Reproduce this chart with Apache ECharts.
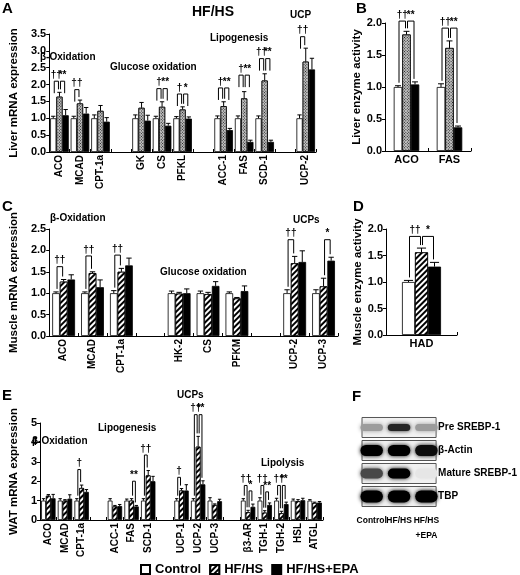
<!DOCTYPE html>
<html>
<head>
<meta charset="utf-8">
<script src="https://cdn.jsdelivr.net/npm/echarts@6/dist/echarts.min.js"></script>
<style>html,body{margin:0;padding:0;background:#fff}#main{width:520px;height:575px}</style>
</head>
<body>
<div id="main"></div>
<script>
// A - liver mRNA
var aCats = ['ACO','MCAD','CPT-1a','','GK','CS','PFKL','','ACC-1','FAS','SCD-1','','UCP-2'];
var aCtrl = [1.0,1.0,1.0,null,1.0,1.0,1.0,null,1.0,1.0,1.0,null,1.0];
var aHF = [1.64,1.44,1.22,null,1.31,1.34,1.26,null,1.36,1.59,2.12,null,2.68];
var aEPA = [1.09,1.14,0.9,null,0.93,0.78,0.99,null,0.65,0.3,0.3,null,2.45];
var aCtrlErr = [0.06,0.06,0.1,null,0.1,0.06,0.05,null,0.07,0.07,0.07,null,0.1];
var aHFErr = [0.13,0.1,0.16,null,0.16,0.15,0.08,null,0.13,0.2,0.2,null,0.4];
var aEPAErr = [0.17,0.18,0.12,null,0.16,0.07,0.05,null,0.05,0.05,0.05,null,0.33];
var aSig = [[0,0,2.1,'††'],[0,1,2.1,'**'],[1,0,1.85,'††'],[5,0,1.88,'†'],[5,1,1.88,'**'],
            [6,0,1.72,'†'],[6,1,1.72,'*'],[8,0,1.9,'†'],[8,1,1.9,'**'],[9,0,2.28,'†'],[9,1,2.28,'**'],
            [10,0,2.77,'††'],[10,1,2.77,'**'],[12,0,3.42,'††']];

// B - liver enzyme activity
var bCats = ['ACO','FAS'];
var bCtrl = [1.0,1.0];
var bHF = [1.82,1.61];
var bEPA = [1.04,0.37];
var bCtrlErr = [0.02,0.05];
var bHFErr = [0.05,0.11];
var bEPAErr = [0.04,0.02];
var bSig = [[0,0,2.03,'††'],[0,1,2.03,'**'],[1,0,1.92,'††'],[1,1,1.92,'**']];

// C - muscle mRNA
var cCats = ['ACO','MCAD','CPT-1a','','HK-2','CS','PFKM','','UCP-2','UCP-3'];
var cCtrl = [1.0,1.0,1.0,null,1.0,1.0,1.0,null,1.0,1.0];
var cHF = [1.27,1.47,1.5,null,0.99,0.98,0.88,null,1.7,1.16];
var cEPA = [1.32,1.14,1.65,null,1.0,1.17,1.05,null,1.73,1.76];
var cCtrlErr = [0.03,0.03,0.06,null,0.05,0.05,0.03,null,0.08,0.08];
var cHFErr = [0.05,0.03,0.08,null,0.03,0.04,0.02,null,0.16,0.19];
var cEPAErr = [0.11,0.17,0.17,null,0.1,0.1,0.12,null,0.26,0.08];
var cSig = [[0,0,1.62,'††'],[1,0,1.87,'††'],[2,0,1.89,'††'],[8,0,2.25,'††'],[9,1,2.25,'*']];

// D - muscle enzyme activity
var dCats = ['HAD'];
var dCtrl = [1.0];
var dHF = [1.56];
var dEPA = [1.29];
var dCtrlErr = [0.03];
var dHFErr = [0.08];
var dEPAErr = [0.08];
var dSig = [[0,0,1.86,'††'],[0,1,1.86,'*']];

// E - WAT mRNA
var eCats = ['ACO','MCAD','CPT-1a','','ACC-1','FAS','SCD-1','','UCP-1','UCP-2','UCP-3','','β3-AR','TGH-1','TGH-2','HSL','ATGL'];
var eCtrl = [1.0,1.0,1.0,null,1.0,1.0,1.0,null,1.0,1.0,1.0,null,1.0,1.0,1.0,1.0,1.0];
var eHF = [1.25,1.0,1.65,null,0.7,1.0,2.3,null,1.52,3.78,0.78,null,0.4,0.38,0.35,0.97,0.88];
var eEPA = [1.12,1.1,1.45,null,0.72,0.7,2.0,null,1.52,1.84,0.97,null,0.68,0.78,0.82,1.02,0.9];
var eCtrlErr = [0.1,0.1,0.1,null,0.1,0.08,0.1,null,0.1,0.1,0.15,null,0.1,0.15,0.12,0.08,0.05];
var eHFErr = [0.06,0.05,0.15,null,0.05,0.1,0.25,null,0.1,0.53,0.05,null,0.1,0.1,0.1,0.08,0.04];
var eEPAErr = [0.2,0.2,0.12,null,0.08,0.05,0.25,null,0.3,0.18,0.1,null,0.14,0.1,0.1,0.1,0.05];
var eSig = [[2,0,2.6,'†'],[5,1,2.0,'**'],[6,0,3.35,'††'],[8,0,2.2,'†'],[9,0,5.43,'††'],[9,1,5.43,'**'],
            [12,0,1.78,'††'],[12,1,1.5,'*'],[13,0,1.78,'††'],[13,1,1.45,'**'],[14,0,1.78,'††'],[14,1,1.78,'**']];

// F - western blot
var fLanes = ['Control','HF/HS','HF/HS\n+EPA'];
var fRows = ['Pre SREBP-1','β-Actin','Mature SREBP-1','TBP'];
var fBands = [[0,0,0.35],[1,0,0.85],[2,0,0.35],
              [0,1,1],[1,1,1],[2,1,0.95],
              [0,2,0.7],[1,2,1],[2,2,0.04],
              [0,3,1],[1,3,1],[2,3,1]];

var FONT = '"Liberation Sans", Arial, sans-serif';
var names = ['Control','HF/HS','HF/HS+EPA'];
var hatchDense = {symbol:'rect', symbolSize:1, color:'#1a1a1a', backgroundColor:'#c4c4c4', dashArrayX:[1,1], dashArrayY:[1,1], rotation:Math.PI/4};
var hatchLine = {symbol:'rect', symbolSize:1, color:'#000', backgroundColor:'#fff', dashArrayX:[1,0], dashArrayY:[1.1,1.9], rotation:-Math.PI/4};
var bandH = [7,11,10,12];

function panel(gi, vals, errs, sig, o) {
  var fills = [{color:'#fff'}, {color:'#fff', decal:o.hatch}, {color:'#000'}];
  var out = [];
  for (var g = 0; g < 3; g++) {
    out.push({
      type:'bar', name:names[g], xAxisIndex:gi, yAxisIndex:gi, silent:true,
      data: vals[g].map(function (v) { return v == null ? '-' : v; }),
      barWidth:o.bw, barGap:'0%',
      itemStyle:{color:fills[g].color, decal:fills[g].decal, borderColor:'#000', borderWidth:0.8}
    });
  }
  var errData = [];
  for (g = 0; g < 3; g++) {
    vals[g].forEach(function (v, i) { if (v != null) errData.push([i, v, errs[g][i], g]); });
  }
  out.push({
    type:'custom', xAxisIndex:gi, yAxisIndex:gi, silent:true, z:3, data:errData,
    renderItem: function (params, api) {
      var i = api.value(0), v = api.value(1), e = api.value(2), g = api.value(3);
      var b = api.coord([i, v]), t = api.coord([i, v + e]);
      var x = b[0] + (g - 1) * o.bw, cw = Math.max(1.5, o.bw * 0.35);
      return {type:'group', children:[
        {type:'line', shape:{x1:x, y1:b[1], x2:x, y2:t[1]}, style:{stroke:'#000', lineWidth:1}},
        {type:'line', shape:{x1:x - cw, y1:t[1], x2:x + cw, y2:t[1]}, style:{stroke:'#000', lineWidth:1}}
      ]};
    }
  });
  out.push({
    type:'custom', xAxisIndex:gi, yAxisIndex:gi, silent:true, z:4,
    data: sig.map(function (s) { return [s[0], s[1], s[2]]; }),
    renderItem: function (params, api) {
      var s = sig[params.dataIndex];
      var c = s[0], g0 = s[1], g1 = s[1] + 1;
      var p = api.coord([c, s[2]]);
      var yTop = p[1];
      var xa = p[0] + (g0 - 1) * o.bw + 1, xb = p[0] + (g1 - 1) * o.bw - 1;
      function leg(g) {
        var yb = api.coord([c, vals[g][c] + errs[g][c]])[1] - 3;
        return Math.max(yTop + 2, Math.min(yb, yTop + o.maxLeg));
      }
      return {type:'group', children:[
        {type:'polyline', shape:{points:[[xa, leg(g0)], [xa, yTop], [xb, yTop], [xb, leg(g1)]]},
         style:{stroke:'#000', lineWidth:1, fill:null}},
        {type:'text', x:(xa + xb) / 2, y:yTop - 1,
         style:{text:s[3], fill:'#000', font:'bold 10px ' + FONT, align:'center', verticalAlign:'bottom'}}
      ]};
    }
  });
  return out;
}

function catAxis(gi, cats, rot, fs) {
  return {
    type:'category', gridIndex:gi, data:cats,
    axisLine:{lineStyle:{color:'#000', width:1}},
    axisTick:{show:true, inside:true, length:3, lineStyle:{color:'#000'}},
    axisLabel:{interval:0, rotate:rot, margin:3, color:'#000', fontSize:fs, fontWeight:'bold', fontFamily:FONT}
  };
}
function valAxis(gi, max, step, name, gap, dec) {
  return {
    type:'value', gridIndex:gi, min:0, max:max, interval:step,
    axisLine:{show:true, lineStyle:{color:'#000', width:1}},
    axisTick:{show:true, length:3, lineStyle:{color:'#000'}},
    splitLine:{show:false},
    axisLabel:{margin:3, color:'#000', fontSize:11, fontWeight:'bold', fontFamily:FONT,
               formatter:function (v) { return v.toFixed(dec); }},
    name:name, nameLocation:'middle', nameGap:gap,
    nameTextStyle:{color:'#000', fontSize:11.5, fontWeight:'bold', fontFamily:FONT}
  };
}

var series = [];
series = series.concat(panel(4, [eCtrl, eHF, eEPA], [eCtrlErr, eHFErr, eEPAErr], eSig, {bw:4.8, hatch:hatchLine, maxLeg:999}));
series = series.concat(panel(0, [aCtrl, aHF, aEPA], [aCtrlErr, aHFErr, aEPAErr], aSig, {bw:6.2, hatch:hatchDense, maxLeg:12}));
series = series.concat(panel(1, [bCtrl, bHF, bEPA], [bCtrlErr, bHFErr, bEPAErr], bSig, {bw:8.5, hatch:hatchDense, maxLeg:999}));
series = series.concat(panel(2, [cCtrl, cHF, cEPA], [cCtrlErr, cHFErr, cEPAErr], cSig, {bw:7.6, hatch:hatchLine, maxLeg:999}));
series = series.concat(panel(3, [dCtrl, dHF, dEPA], [dCtrlErr, dHFErr, dEPAErr], dSig, {bw:13, hatch:hatchLine, maxLeg:999}));

// blot boxes and bands
series.push({
  type:'custom', xAxisIndex:5, yAxisIndex:5, silent:true, z:2,
  data: fRows.map(function (r, i) { return [0, i]; }),
  renderItem: function (params, api) {
    var cs = params.coordSys;
    var y = api.coord([0, api.value(1)])[1];
    var h = api.size([1, 1])[1] * 0.87;
    return {type:'rect', shape:{x:cs.x + 4, y:y - h / 2, width:cs.width - 8, height:h},
            style:{fill:'#f1f1f1', stroke:'#555', lineWidth:1}};
  }
});
series.push({
  type:'custom', xAxisIndex:5, yAxisIndex:5, silent:true, z:3, data:fBands,
  renderItem: function (params, api) {
    var c = api.coord([api.value(0), api.value(1)]);
    var w = api.size([1, 1])[0] * 0.82, h = bandH[api.value(1)];
    var gv = Math.round(240 * (1 - api.value(2)));
    var col = 'rgb(' + gv + ',' + gv + ',' + gv + ')';
    return {type:'rect', shape:{x:c[0] - w / 2, y:c[1] - h / 2, width:w, height:h, r:h / 2},
            style:{fill:col, shadowBlur:4, shadowColor:col}};
  }
});

function txt(t, x, y, size, align) {
  return {type:'text', x:x, y:y, silent:true,
          style:{text:t, fill:'#000', font:'bold ' + size + 'px ' + FONT, align:align || 'left', verticalAlign:'middle'}};
}

var option = {
  animation:false,
  backgroundColor:'#fff',
  grid:[
    {left:35, top:34, width:281, height:118},
    {left:385, top:23, width:86, height:128},
    {left:37, top:229, width:301, height:107},
    {left:386, top:229, width:71, height:106},
    {left:27, top:423, width:296, height:97},
    {left:358, top:416, width:94, height:92}
  ],
  xAxis:[
    catAxis(0, aCats, 90, 10),
    catAxis(1, bCats, 0, 11),
    catAxis(2, cCats, 90, 10),
    catAxis(3, dCats, 0, 11),
    catAxis(4, eCats, 90, 10),
    {type:'category', gridIndex:5, data:fLanes, axisLine:{show:false}, axisTick:{show:false},
     axisLabel:{interval:0, margin:5, color:'#000', fontSize:8.5, fontWeight:'bold', fontFamily:FONT, lineHeight:15}}
  ],
  yAxis:[
    valAxis(0, 3.5, 0.5, 'Liver mRNA expression', 22, 1),
    valAxis(1, 2, 0.5, 'Liver enzyme activity', 20, 1),
    valAxis(2, 2.5, 0.5, 'Muscle mRNA expression', 24, 1),
    valAxis(3, 2, 0.5, 'Muscle enzyme activity', 22, 1),
    valAxis(4, 5, 1, 'WAT mRNA expression', 13, 0),
    {type:'category', gridIndex:5, data:fRows, inverse:true, position:'right',
     axisLine:{show:false}, axisTick:{show:false},
     axisLabel:{margin:-2, color:'#000', fontSize:10, fontWeight:'bold', fontFamily:FONT}}
  ],
  legend:{
    left:140, top:563, itemWidth:9, itemHeight:9, itemGap:8, icon:'rect', padding:0, selectedMode:false,
    data:names,
    textStyle:{color:'#000', fontSize:13, fontWeight:'bold', fontFamily:FONT}
  },
  graphic:[
    txt('A', 2, 9, 15), txt('HF/HS', 213, 12, 14, 'center'),
    txt('β-Oxidation', 40, 57, 10), txt('Glucose oxidation', 110, 67, 10),
    txt('Lipogenesis', 210, 38, 10), txt('UCP', 290, 15, 10),
    txt('B', 356, 9, 15),
    txt('C', 2, 207, 15), txt('β-Oxidation', 50, 218, 10), txt('Glucose oxidation', 160, 272, 10),
    txt('UCPs', 293, 220, 10),
    txt('D', 353, 207, 15),
    txt('E', 2, 396, 15), txt('β-Oxidation', 32, 441, 10), txt('Lipogenesis', 98, 428, 10),
    txt('UCPs', 177, 395, 10), txt('Lipolysis', 261, 463, 10),
    txt('F', 352, 397, 15)
  ],
  series:series
};

var chart = echarts.init(document.getElementById('main'));
chart.setOption(option);
</script>
</body>
</html>
